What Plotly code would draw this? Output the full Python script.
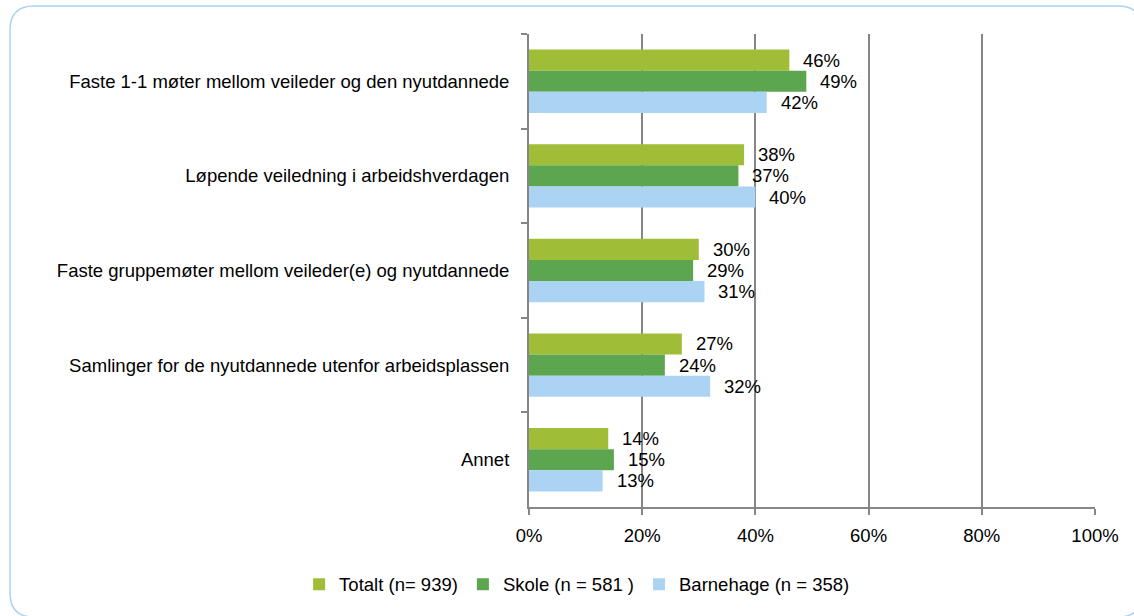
import plotly.graph_objects as go

categories = [
    "Faste 1-1 møter mellom veileder og den nyutdannede",
    "Løpende veiledning i arbeidshverdagen",
    "Faste gruppemøter mellom veileder(e) og nyutdannede",
    "Samlinger for de nyutdannede utenfor arbeidsplassen",
    "Annet",
]
series_names = ["Totalt (n= 939)", "Skole (n = 581 )", "Barnehage (n = 358)"]
totalt = [46, 38, 30, 27, 14]
skole = [49, 37, 29, 24, 15]
barnehage = [42, 40, 31, 32, 13]
colors = ["#A0BD37", "#5CA650", "#AAD3F4"]
tick_vals = [0, 20, 40, 60, 80, 100]
tick_text = ["0%", "20%", "40%", "60%", "80%", "100%"]

W, H = 1134, 616
L, R, T, B = 529, 39, 34, 109
pw, ph = W - L - R, H - T - B
FONT = "Liberation Sans, Arial"
FS = 18.5

fig = go.Figure()
all_vals = [totalt, skole, barnehage]
for name, vals, col in zip(series_names, all_vals, colors):
    fig.add_trace(go.Bar(
        y=categories, x=vals, name=name, orientation="h",
        marker=dict(color=col, line=dict(width=0)),
        hoverinfo="x+name",
    ))

band = ph / len(categories)
bar_h = band * (1 - 0.33) / 3
annotations = []
for i, vals in enumerate(all_vals):
    yshift = -(i - 1) * bar_h
    for cat, v in zip(categories, vals):
        annotations.append(dict(x=v, y=cat, xref="x", yref="y", text=f"{v}%",
                                showarrow=False, xanchor="left", xshift=12,
                                yshift=yshift, font=dict(family=FONT, size=FS, color="#000")))

def P(x, y):
    return f"{(x - L) / pw:.5f},{(H - B - y) / ph:.5f}"

x0, y0, x1, y1, r = 10, 6, 1142, 617, 24
path = (f"M {P(x0+r, y0)} L {P(x1-r, y0)} Q {P(x1, y0)} {P(x1, y0+r)} "
        f"L {P(x1, y1-r)} Q {P(x1, y1)} {P(x1-r, y1)} L {P(x0+r, y1)} "
        f"Q {P(x0, y1)} {P(x0, y1-r)} L {P(x0, y0+r)} Q {P(x0, y0)} {P(x0+r, y0)} Z")

fig.update_layout(
    width=W, height=H,
    margin=dict(l=L, r=R, t=T, b=B, pad=0),
    barmode="group", bargap=0.33, bargroupgap=0,
    paper_bgcolor="white", plot_bgcolor="white",
    font=dict(family=FONT, size=FS, color="#000000"),
    showlegend=True,
    legend=dict(orientation="h", x=0.085, xanchor="center", y=-0.124, yanchor="top",
                font=dict(size=FS), traceorder="normal", itemwidth=30),
    annotations=annotations,
    shapes=[dict(type="path", xref="paper", yref="paper", path=path,
                 line=dict(color="#A9D3F2", width=1.5), layer="below")],
    xaxis=dict(range=[0, 100], tickvals=tick_vals, ticktext=tick_text,
               showgrid=True, gridcolor="#868686", gridwidth=2,
               showline=True, linecolor="#868686", linewidth=2,
               ticks="outside", ticklen=6, tickcolor="#868686", tickwidth=2,
               ticklabelstandoff=5,
               zeroline=False, fixedrange=True),
    yaxis=dict(autorange="reversed", showline=True, linecolor="#868686", linewidth=2,
               ticks="outside", ticklen=6, tickcolor="#868686", tickwidth=2,
               tickson="boundaries", showgrid=False, ticklabelstandoff=14,
               fixedrange=True),
)
fig.write_html("out.html", config={"displayModeBar": False},
               post_script="document.body.style.margin='0';document.body.style.overflow='hidden';")
